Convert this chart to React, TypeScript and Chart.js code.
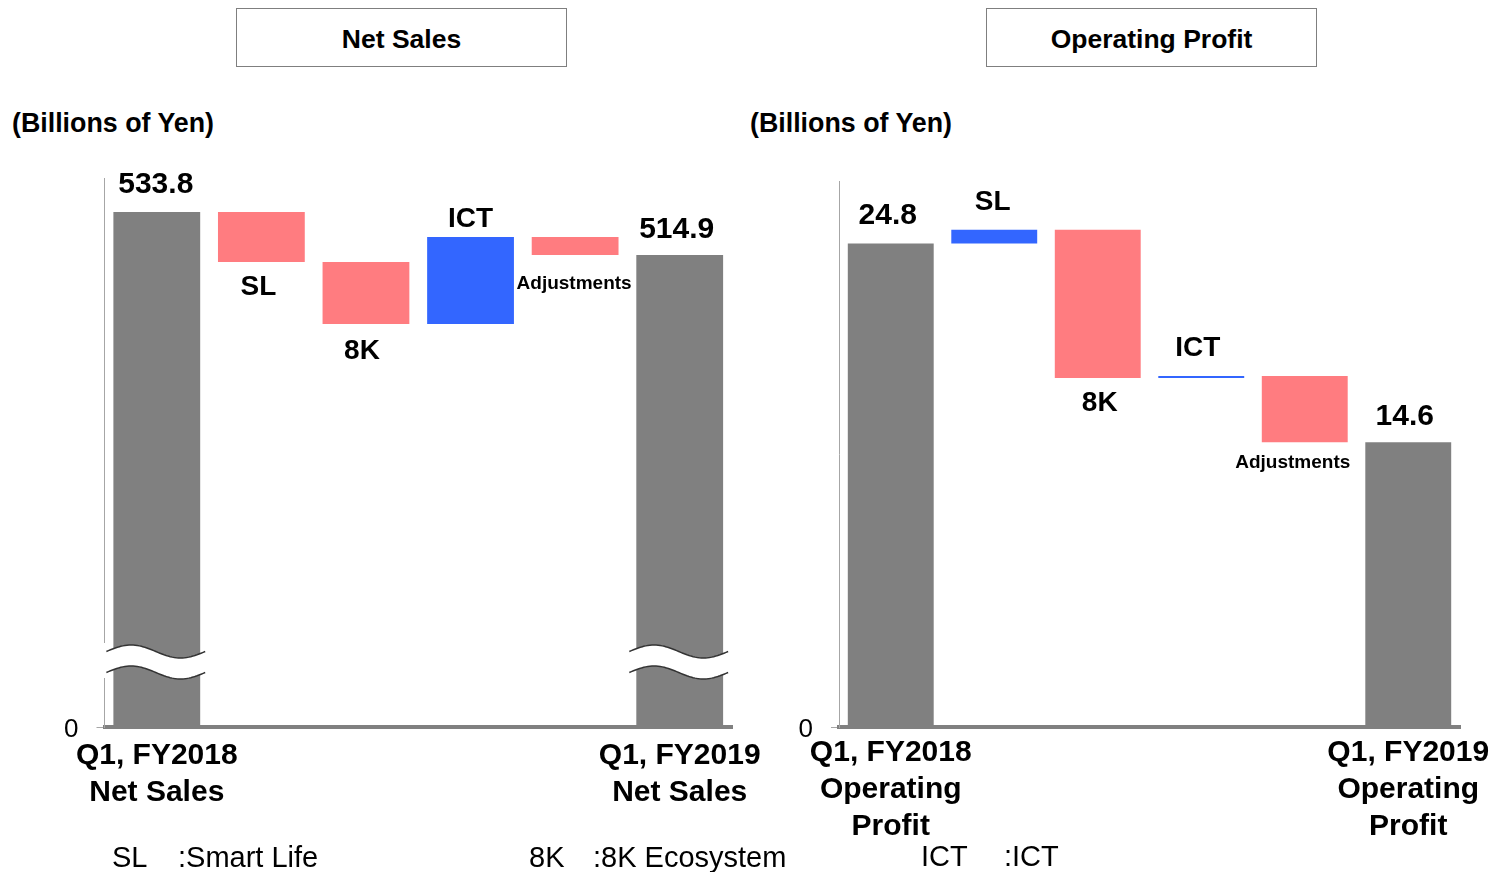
import React, { useEffect, useRef } from "react";
import { Chart, registerables } from "chart.js";

Chart.register(...registerables);

const FONT = "'Liberation Sans', Arial, Helvetica, sans-serif";

// ---------------- data ----------------
const salesCategories = ["Q1, FY2018 Net Sales", "SL", "8K", "ICT", "Adjustments", "Q1, FY2019 Net Sales"];
const salesTickLabels = [["Q1, FY2018", "Net Sales"], "", "", "", "", ["Q1, FY2019", "Net Sales"]];
const salesTotals = [533.8, 514.9];
const salesChanges = [-22.0, -27.3, 38.3, -7.9];
const salesAxisRange = [307.4, 548.7];

const profitCategories = ["Q1, FY2018 Operating Profit", "SL", "8K", "ICT", "Adjustments", "Q1, FY2019 Operating Profit"];
const profitTickLabels = [["Q1, FY2018", "Operating", "Profit"], "", "", "", "", ["Q1, FY2019", "Operating", "Profit"]];
const profitTotals = [24.8, 14.6];
const profitChanges = [0.7, -7.6, 0.1, -3.4];
const profitAxisRange = [0, 28];

const segmentNames = ["SL", "8K", "ICT", "Adjustments"];
const legendCodes = ["SL", "8K", "ICT"];
const legendNames = ["Smart Life", "8K Ecosystem", "ICT"];

// ---------------- styles ----------------
const GRAY = "#808080";
const PINK = "#ff7c80";
const BLUE = "#3366ff";
const salesLabelOffsets = [27, 25, 27, 18, 29, 25];
const salesLabelShiftX = [-1, -3, -4, 0, -1, -3];
const profitLabelOffsets = [28, 27, 25, 28, 20, 26];
const profitLabelShiftX = [-3, -1.5, 2, -3.5, -12, -3.5];

function buildWaterfall(totals: number[], changes: number[]) {
  const bars: number[][] = [];
  const colors: string[] = [];
  const above: boolean[] = [];
  let run = totals[0];
  bars.push([0, totals[0]]);
  colors.push(GRAY);
  above.push(true);
  for (const c of changes) {
    const next = Math.round((run + c) * 10) / 10;
    bars.push([run, next]);
    colors.push(c >= 0 ? BLUE : PINK);
    above.push(c >= 0);
    run = next;
  }
  bars.push([0, totals[1]]);
  colors.push(GRAY);
  above.push(true);
  const texts = [totals[0].toFixed(1), ...segmentNames, totals[1].toFixed(1)];
  const sizes = texts.map((t, i) => (i === 0 || i === texts.length - 1 ? 30 : t === "Adjustments" ? 19 : 28));
  return { bars, colors, above, texts, sizes };
}

const waterfallLabels = {
  id: "waterfallLabels",
  afterDatasetsDraw(chart: any, _args: any, opts: any) {
    const { ctx } = chart;
    const meta = chart.getDatasetMeta(0);
    ctx.save();
    ctx.fillStyle = "#000";
    ctx.textAlign = "center";
    ctx.textBaseline = "middle";
    meta.data.forEach((el: any, i: number) => {
      const { x, y, base } = el.getProps(["x", "y", "base"], true);
      const top = Math.min(y, base);
      const bottom = Math.max(y, base);
      ctx.font = `bold ${opts.sizes[i]}px ${FONT}`;
      const ty = opts.above[i] ? top - opts.offsets[i] : bottom + opts.offsets[i];
      ctx.fillText(opts.texts[i], x + opts.shifts[i], ty);
    });
    ctx.restore();
  },
};

const axisBreak = {
  id: "axisBreak",
  afterDraw(chart: any, _args: any, opts: any) {
    if (!opts || !opts.enabled) return;
    const { ctx, chartArea } = chart;
    const meta = chart.getDatasetMeta(0);
    const cy = chartArea.bottom - opts.fromBottom;
    const half = 10.5;
    const amp = 6.5;
    ctx.save();
    ctx.fillStyle = "#fff";
    ctx.fillRect(chartArea.left - 3, cy - 19, 6, 35);
    opts.indices.forEach((i: number) => {
      const el = meta.data[i];
      const { x, width } = el.getProps(["x", "width"], true);
      const x0 = x - width / 2 - 7;
      const x1 = x + width / 2 + 5;
      const N = 48;
      const pt = (k: number, off: number) => {
        const t = k / N;
        return [x0 + (x1 - x0) * t, cy + off - amp * Math.sin(2 * Math.PI * t)];
      };
      ctx.beginPath();
      for (let k = 0; k <= N; k++) {
        const [px, py] = pt(k, -half);
        if (k === 0) ctx.moveTo(px, py);
        else ctx.lineTo(px, py);
      }
      for (let k = N; k >= 0; k--) {
        const [px, py] = pt(k, half);
        ctx.lineTo(px, py);
      }
      ctx.closePath();
      ctx.fillStyle = "#fff";
      ctx.fill();
      ctx.strokeStyle = "#333";
      ctx.lineWidth = 1.5;
      [-half, half].forEach((off) => {
        ctx.beginPath();
        for (let k = 0; k <= N; k++) {
          const [px, py] = pt(k, off);
          if (k === 0) ctx.moveTo(px, py);
          else ctx.lineTo(px, py);
        }
        ctx.stroke();
      });
    });
    ctx.restore();
  },
};

interface WFProps {
  categories: string[];
  tickLabels: any[];
  totals: number[];
  changes: number[];
  range: number[];
  offsets: number[];
  shifts: number[];
  yWidth: number;
  padRight: number;
  padTop: number;
  tickPad: number;
  width: number;
  height: number;
  broken: boolean;
}

function Waterfall(p: WFProps) {
  const ref = useRef<HTMLCanvasElement | null>(null);
  useEffect(() => {
    if (!ref.current) return;
    const wf = buildWaterfall(p.totals, p.changes);
    const chart = new Chart(ref.current, {
      type: "bar",
      data: {
        labels: p.categories,
        datasets: [
          {
            data: wf.bars as any,
            backgroundColor: wf.colors,
            borderWidth: 0,
            categoryPercentage: 1,
            barPercentage: 0.83,
          },
        ],
      },
      options: {
        responsive: false,
        animation: false,
        devicePixelRatio: 1,
        layout: { padding: { left: 0, right: p.padRight, top: p.padTop, bottom: 35 } },
        plugins: {
          legend: { display: false },
          tooltip: { enabled: false },
          title: { display: false },
          waterfallLabels: { texts: wf.texts, sizes: wf.sizes, above: wf.above, offsets: p.offsets, shifts: p.shifts },
          axisBreak: { enabled: p.broken, fromBottom: 65, indices: [0, p.categories.length - 1] },
        } as any,
        scales: {
          x: {
            offset: true,
            grid: { display: false, drawTicks: false },
            border: { display: true, color: GRAY, width: 4 },
            ticks: {
              autoSkip: false,
              maxRotation: 0,
              padding: p.tickPad,
              color: "#000",
              font: { family: FONT, size: 30, weight: "bold", lineHeight: 1.23 },
              callback: (_v: any, i: number) => p.tickLabels[i],
            },
            afterFit: (s: any) => {
              s.height = 110;
              s.paddingLeft = 0;
              s.paddingRight = 0;
            },
          },
          y: {
            min: p.range[0],
            max: p.range[1],
            grid: { display: true, drawOnChartArea: false, drawTicks: true, tickLength: 8, color: "#a6a6a6" },
            border: { display: true, color: "#a6a6a6", width: 1 },
            afterBuildTicks: (s: any) => {
              s.ticks = [{ value: s.min }];
            },
            ticks: {
              padding: 18,
              labelOffset: 3,
              color: "#000",
              font: { family: FONT, size: 26 },
              callback: () => "0",
            },
            afterFit: (s: any) => {
              s.width = p.yWidth;
              s.paddingTop = 0;
              s.paddingBottom = 0;
            },
          },
        },
      },
      plugins: [waterfallLabels, axisBreak],
    });
    return () => chart.destroy();
  }, []);
  return <canvas ref={ref} width={p.width} height={p.height} style={{ width: p.width, height: p.height, display: "block" }} />;
}

const boxStyle: React.CSSProperties = {
  position: "absolute",
  top: 8,
  width: 331,
  height: 59,
  boxSizing: "border-box",
  border: "1px solid #7f7f7f",
  paddingTop: 4,
  display: "flex",
  alignItems: "center",
  justifyContent: "center",
  fontWeight: "bold",
  fontSize: 26.5,
  color: "#000",
};

const unitStyle: React.CSSProperties = {
  position: "absolute",
  top: 107,
  height: 32,
  lineHeight: "32px",
  fontWeight: "bold",
  fontSize: 26.8,
  color: "#000",
  whiteSpace: "nowrap",
};

const noteStyle: React.CSSProperties = {
  position: "absolute",
  top: 841,
  height: 32,
  lineHeight: "32px",
  fontSize: 29,
  color: "#000",
  whiteSpace: "nowrap",
};

const noteCodeX = [112, 529, 921];
const noteNameX = [178, 593, 1004];

export default function App() {
  return (
    <div
      style={{
        position: "absolute",
        left: 0,
        top: 0,
        width: 1506,
        height: 872,
        background: "#fff",
        fontFamily: FONT,
        overflow: "hidden",
      }}
    >
      <div style={{ ...boxStyle, left: 236 }}>Net Sales</div>
      <div style={{ ...boxStyle, left: 986 }}>Operating Profit</div>
      <div style={{ ...unitStyle, left: 12 }}>(Billions of Yen)</div>
      <div style={{ ...unitStyle, left: 750 }}>(Billions of Yen)</div>

      <div style={{ position: "absolute", left: 750, top: 150 }}>
        <Waterfall
          categories={profitCategories}
          tickLabels={profitTickLabels}
          totals={profitTotals}
          changes={profitChanges}
          range={profitAxisRange}
          offsets={profitLabelOffsets}
          shifts={profitLabelShiftX}
          yWidth={89}
          padRight={46}
          padTop={31}
          tickPad={7}
          width={756}
          height={722}
          broken={false}
        />
      </div>
      <div style={{ position: "absolute", left: 0, top: 150 }}>
        <Waterfall
          categories={salesCategories}
          tickLabels={salesTickLabels}
          totals={salesTotals}
          changes={salesChanges}
          range={salesAxisRange}
          offsets={salesLabelOffsets}
          shifts={salesLabelShiftX}
          yWidth={104.5}
          padRight={58}
          padTop={28}
          tickPad={10}
          width={790}
          height={722}
          broken={true}
        />
      </div>

      {legendCodes.map((c, i) => (
        <div key={"c" + i} style={{ ...noteStyle, left: noteCodeX[i], top: i === 2 ? 840 : 841 }}>
          {c}
        </div>
      ))}
      {legendNames.map((n, i) => (
        <div key={"n" + i} style={{ ...noteStyle, left: noteNameX[i], top: i === 2 ? 840 : 841 }}>
          {":" + n}
        </div>
      ))}
    </div>
  );
}
